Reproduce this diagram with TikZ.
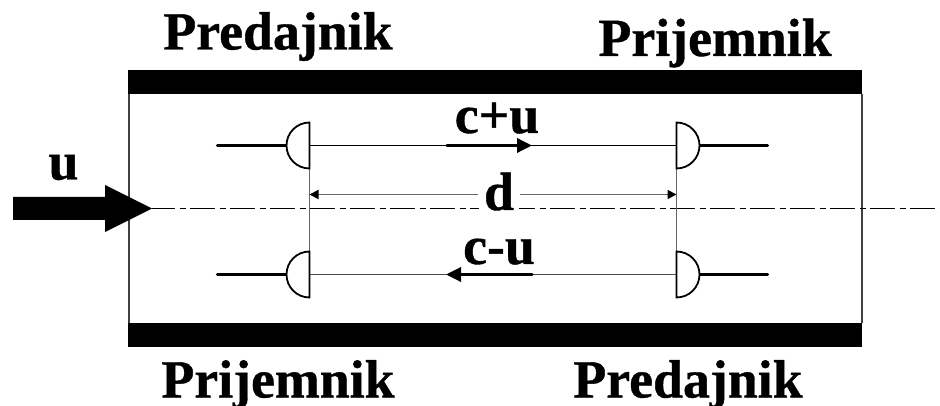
\documentclass[tikz,border=0pt]{standalone}
\usepackage{fontspec}
\setmainfont[BoldFeatures={FakeBold=0.7}]{Liberation Serif}
\usetikzlibrary{arrows.meta}
\tikzset{
  x=1pt,y=-1pt,
  lbl/.style={inner sep=0pt,font=\fontsize{53.8}{54}\selectfont\bfseries,anchor=base},
  bar/.style={fill=black,draw=none},
  wall/.style={line width=2pt,draw=black!75},
  lead/.style={line width=3.4pt,line cap=round,shorten <=1.5pt},
  cup/.style={line width=1.8pt,fill=white,line join=miter},
  beam/.style={line width=1.2pt},
  guide/.style={line width=1.8pt,draw=black!60},
  flow/.style={line width=3.4pt,line cap=round,-{Triangle[length=15pt,width=14pt]}},
  dim/.style={line width=1.8pt,draw=black!60,-{Triangle[length=9pt,width=9pt,color=black]}},
  axis/.style={line width=1.6pt,dash pattern=on 25pt off 4.5pt on 6pt off 4.5pt,dash phase=2pt},
}
\begin{document}
\begin{tikzpicture}
\useasboundingbox (0,0) rectangle (940,406);
% walls
\fill[bar] (128,70) rectangle (862,94);
\fill[bar] (128,323) rectangle (862,347);
\coordinate (wlt) at (128.5,94); \coordinate (wlb) at (128.5,323);
\coordinate (wrt) at (862,94); \coordinate (wrb) at (862,323);
\draw[wall] (wlt) -- (wlb);
\draw[wall] (wrt) -- (wrb);
% axis
\coordinate (axs) at (152,208.5); \coordinate (axe) at (940,208.5);
\draw[axis] (axs) -- (axe);
% transducer anchors
\coordinate (lt) at (309.5,145.5); \coordinate (lb) at (309.5,274.5);
\coordinate (rt) at (676.5,145.5); \coordinate (rb) at (676.5,274.5);
\coordinate (ltl) at (216,145.5); \coordinate (lbl) at (216,274.5);
\coordinate (rtl) at (769,145.5); \coordinate (rbl) at (769,274.5);
\coordinate (lta) at (286,145.5); \coordinate (lba) at (286,274.5);
\coordinate (rta) at (699,145.5); \coordinate (rba) at (699,274.5);
\draw[lead] (ltl) -- (lta);
\draw[lead] (lbl) -- (lba);
\draw[lead] (rtl) -- (rta);
\draw[lead] (rbl) -- (rba);
% guides
\draw[guide] (lt) -- (lb);
\draw[guide] (rt) -- (rb);
% beams
\draw[beam] (lt) -- (rt);
\draw[beam,draw=black!70] (lb) -- (rb);
% cups
\draw[cup] (309.5,122.5) arc[start angle=90,end angle=270,x radius=23,y radius=-23] -- cycle;
\draw[cup] (309.5,251.5) arc[start angle=90,end angle=270,x radius=23,y radius=-23] -- cycle;
\draw[cup] (676.5,122.5) arc[start angle=90,end angle=-90,x radius=23,y radius=-23] -- cycle;
\draw[cup] (676.5,251.5) arc[start angle=90,end angle=-90,x radius=23,y radius=-23] -- cycle;
% flow arrows
\coordinate (fa) at (447,145.5); \coordinate (fb) at (532,145.5);
\coordinate (ga) at (532,274.5); \coordinate (gb) at (446,274.5);
\draw[flow] (fa) -- (fb);
\draw[flow] (ga) -- (gb);
% dimension
\node[lbl,fill=white,inner xsep=5.5pt] (d) at (499,210) {d};
\draw[dim] (d.west|-0,194.5) -- (lt|-0,194.5);
\draw[dim] (d.east|-0,194.5) -- (rt|-0,194.5);
% big arrow
\fill (13,197) -- (105,197) -- (105,185) -- (axs) -- (105,232) -- (105,220) -- (13,220) -- cycle;
% labels
\node[lbl] (t1) at (278,49.5) {Predajnik};
\node[lbl] (t2) at (715,56) {Prijemnik};
\node[lbl] (t3) at (278,397.5) {Prijemnik};
\node[lbl] (t4) at (688,397.5) {Predajnik};
\node[lbl] (cpu) at (497,133) {c+u};
\node[lbl] (cmu) at (499,264) {c-u};
\node[lbl] (u) at (63.5,179.5) {u};
\end{tikzpicture}
\end{document}
